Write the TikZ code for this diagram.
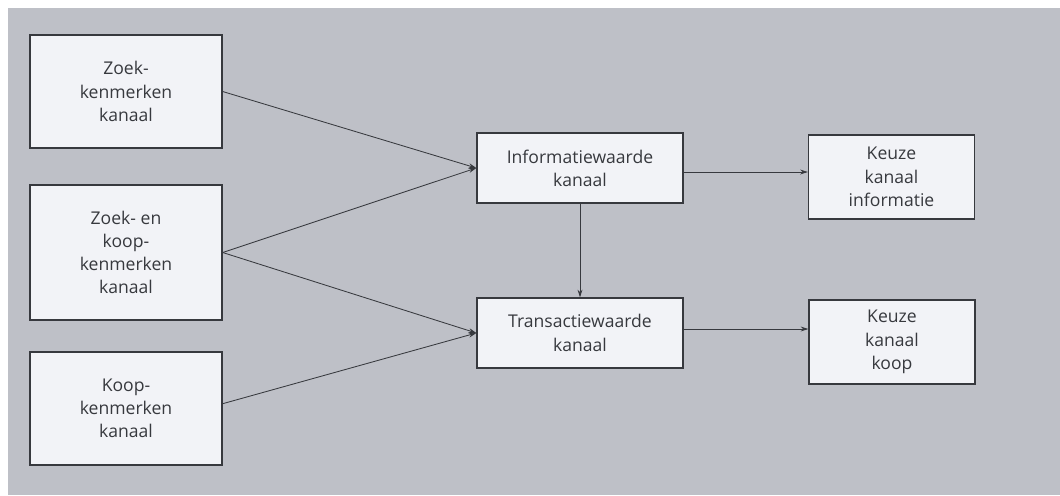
\documentclass[tikz,border=0pt]{standalone}
\usepackage{fontspec}
\setmainfont{Open Sans}
\usepackage{tikz}
\usetikzlibrary{arrows.meta}
\usetikzlibrary{positioning}
\definecolor{scangray}{RGB}{190,192,199}
\definecolor{boxfill}{RGB}{242,243,247}
\definecolor{inkgray}{RGB}{55,57,62}
\tikzstyle{kenmerk} = [rectangle, draw=inkgray, line width=0.9pt, fill=boxfill, text=inkgray, align=center, inner sep=0pt, minimum width=4.8cm, minimum height=2.825cm, font=\fontsize{12.5}{16.5}\selectfont]
\tikzstyle{waarde} = [kenmerk, minimum width=5.15cm, minimum height=1.75cm]
\tikzstyle{keuze} = [kenmerk, minimum width=4.15cm, minimum height=2.1cm]
\tikzstyle{pijl} = [draw=inkgray, line width=0.6pt, -{Stealth[length=5.5pt,width=3.5pt]}]

\begin{document}
\begin{tikzpicture}[x=0.025cm, y=-0.025cm]
  \useasboundingbox (0,0) rectangle (1060,495);
  \fill[scangray] (8,8) rectangle (1060,495);
  % invoer
  \node[kenmerk] (zoek) at (126,91.5) {Zoek-\\kenmerken\\kanaal};
  \node[kenmerk, minimum height=3.375cm] (zoekkoop) at (126,252.5) {Zoek- en\\koop-\\kenmerken\\kanaal};
  \node[kenmerk] (koop) at (126,408.5) {Koop-\\kenmerken\\kanaal};
  % waarde
  \node[waarde] (info) at (580,168) {Informatiewaarde\\kanaal};
  \node[waarde] (trans) at (580,333) {Transactiewaarde\\kanaal};
  % keuze
  \node[keuze] (kinfo) at (891.5,177) {Keuze\\kanaal\\informatie};
  \node[keuze] (kkoop) at (892,342) {Keuze\\kanaal\\koop};

  \draw[pijl] (zoek.east) -- (info.west);
  \draw[pijl] (zoekkoop.east) -- (info.west);
  \draw[pijl] (zoekkoop.east) -- (trans.west);
  \draw[pijl] ([yshift=0.12cm]koop.east) -- (trans.west);
  \draw[pijl] (info.south) -- (trans.north);
  \draw[pijl] ([yshift=-0.1cm]info.east) -- ([yshift=-0.1cm]info.east -| kinfo.west);
  \draw[pijl] ([yshift=0.1cm]trans.east) -- ([yshift=0.1cm]trans.east -| kkoop.west);
\end{tikzpicture}
\end{document}
